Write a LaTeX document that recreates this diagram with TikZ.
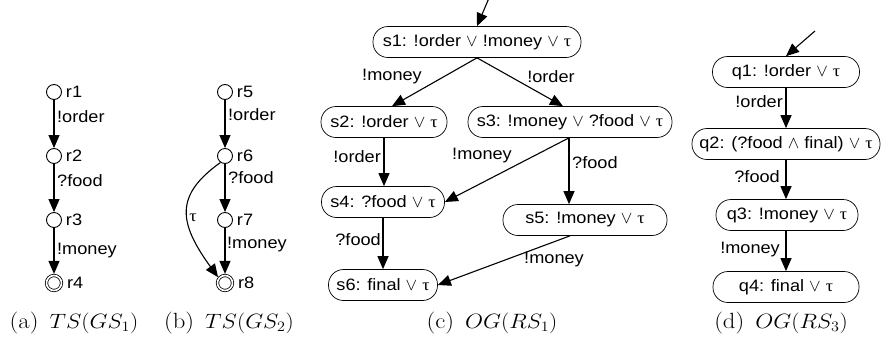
\documentclass[tikz,border=0pt]{standalone}
\usepackage[no-math]{fontspec}
\usepackage{graphicx}
\setmainfont[FakeStretch=1.1]{Liberation Sans}
\newfontfamily\serifgreek[FakeStretch=1.1]{Liberation Serif}
\newfontfamily\capfont{Latin Modern Roman}
\usetikzlibrary{arrows.meta}
\newcommand{\tauc}{{\serifgreek τ}}
\newcommand{\capt}[2]{\scalebox{1.12}[1]{\capfont\fontsize{22}{26}\selectfont(#1)\hspace{0.45em}$#2$}}
\begin{document}
\begin{tikzpicture}[x=1pt,y=-1pt,font=\fontsize{16.5}{19}\selectfont,
  st/.style={circle,draw,line width=0.9pt,minimum size=15pt,inner sep=0pt},
  fin/.style={circle,draw,line width=0.8pt,double,double distance=1.6pt,minimum size=15pt,inner sep=0pt,outer sep=1.6pt},
  rlab/.style={label distance=0.5pt},
  pill/.style={draw,line width=0.7pt,rounded corners=15pt,minimum height=31pt,inner sep=0pt},
  edge/.style={line width=1.1pt,-{Triangle[length=13pt,width=11pt]}},
  lbl/.style={inner sep=0pt},
  captionbox/.style={inner sep=0pt}]
\useasboundingbox (0,0) rectangle (884,346);

% (a)
\node[st,label={[rlab]right:r1}] (r1) at (54,92) {};
\node[st,label={[rlab]right:r2}] (r2) at (54,156) {};
\node[st,label={[rlab]right:r3}] (r3) at (54,220) {};
\node[fin,label={[rlab]right:r4}] (r4) at (54,283) {};
\draw[edge] (r1) -- (r2);
\draw[edge] (r2) -- (r3);
\draw[edge] (r3) -- (r4);
\node[lbl,anchor=west] (la1) at (57,117) {!order};
\node[lbl,anchor=west] (la2) at (57,181) {?food};
\node[lbl,anchor=west] (la3) at (57,251) {!money};

% (b)
\node[st,label={[rlab]right:r5}] (r5) at (225,92) {};
\node[st,label={[rlab]right:r6}] (r6) at (225,156) {};
\node[st,label={[rlab]right:r7}] (r7) at (225,220) {};
\node[fin,label={[rlab]right:r8}] (r8) at (225,283) {};
\draw[edge] (r5) -- (r6);
\draw[edge] (r6) -- (r7);
\draw[edge] (r7) -- (r8);
\draw[edge] (r6.235) .. controls (175,195) and (178,222) .. (r8.140);
\node[lbl,anchor=west] (lb1) at (228,115) {!order};
\node[lbl,anchor=west] (lb2) at (228,178) {?food};
\node[lbl,anchor=west] (lb3) at (227,245) {!money};
\node[lbl] (lbt) at (193,218) {\tauc};

% (c)
\node[pill,minimum width=208pt] (s1) at (477,42) {s1: !order $\vee$ !money $\vee$ \tauc};
\node[pill,minimum width=126pt] (s2) at (384,122) {s2: !order $\vee$ \tauc};
\node[pill,minimum width=204pt] (s3) at (570,122) {s3: !money $\vee$ ?food $\vee$ \tauc};
\node[pill,minimum width=123pt] (s4) at (383,202) {s4: ?food $\vee$ \tauc};
\node[pill,minimum width=164pt] (s5) at (585,220) {s5: !money $\vee$ \tauc};
\node[pill,minimum width=109pt] (s6) at (383,285) {s6: final $\vee$ \tauc};
\coordinate (in1) at (489,-2);
\draw[edge] (in1) -- (s1.north);
\draw[edge] (s1.south) -- ([xshift=8pt]s2.north);
\draw[edge] (s1.south) -- ([xshift=-7pt]s3.north);
\draw[edge] (s2.south) -- (s2.south |- s4.north);
\draw[edge] ([xshift=-1pt]s3.south) -- (s4.east);
\draw[edge] ([xshift=-1pt]s3.south) -- ([xshift=-1pt]s3.south |- s5.north);
\draw[edge] (s4.south) -- (s4.south |- s6.north);
\draw[edge] ([xshift=-15pt]s5.south) -- (s6.east);
\node[lbl] (lc1) at (392,77) {!money};
\node[lbl] (lc2) at (551,77) {!order};
\node[lbl,anchor=east] (lc3) at (381,157) {!order};
\node[lbl] (lc4) at (482,156) {!money};
\node[lbl,anchor=west] (lc5) at (572,163) {?food};
\node[lbl,anchor=east] (lc6) at (381,240) {?food};
\node[lbl] (lc7) at (554,260) {!money};

% (d)
\node[pill,minimum width=147pt] (q1) at (786,72) {q1: !order $\vee$ \tauc};
\node[pill,minimum width=188pt] (q2) at (786,144) {q2: (?food $\wedge$ final) $\vee$ \tauc};
\node[pill,minimum width=142pt] (q3) at (787,215) {q3: !money $\vee$ \tauc};
\node[pill,minimum width=146pt] (q4) at (786,287) {q4: final $\vee$ \tauc};
\coordinate (in2) at (815,31);
\draw[edge] (in2) -- (q1.north);
\draw[edge] (q1.south) -- (q1.south |- q2.north);
\draw[edge] (q1.south |- q2.south) -- (q1.south |- q3.north);
\draw[edge] (q1.south |- q3.south) -- (q1.south |- q4.north);
\node[lbl,anchor=east] (ld1) at (783,102) {!order};
\node[lbl,anchor=east] (ld2) at (780,177) {?food};
\node[lbl,anchor=east] (ld3) at (780,250) {!money};

% captions
\node[captionbox] (capa) at (74,323) {\capt{a}{TS(GS_1)}};
\node[captionbox] (capb) at (229,323) {\capt{b}{TS(GS_2)}};
\node[captionbox] (capc) at (492,323) {\capt{c}{OG(RS_1)}};
\node[captionbox] (capd) at (781,323) {\capt{d}{OG(RS_3)}};
\end{tikzpicture}
\end{document}
